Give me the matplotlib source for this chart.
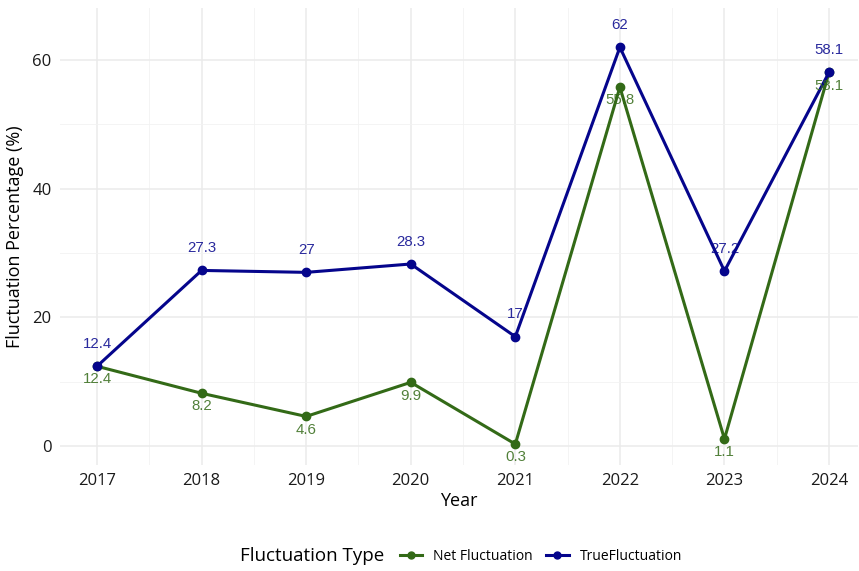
import numpy as np
import matplotlib.pyplot as plt

years = [2017, 2018, 2019, 2020, 2021, 2022, 2023, 2024]
true_fluct = [12.4, 27.3, 27, 28.3, 17, 62, 27.2, 58.1]
net_fluct = [12.4, 8.2, 4.6, 9.9, 0.3, 55.8, 1.1, 58.1]
true_labels = ["12.4", "27.3", "27", "28.3", "17", "62", "27.2", "58.1"]
net_labels = ["12.4", "8.2", "4.6", "9.9", "0.3", "55.8", "1.1", "58.1"]

green = '#336a17'
blue = '#05058c'

plt.rcParams['font.family'] = ['Open Sans', 'DejaVu Sans']

fig = plt.figure(figsize=(8.59, 5.71), dpi=100)
ax = fig.add_axes([60 / 859, 1 - 465 / 571, 798 / 859, 457 / 571])

ax.plot(years, net_fluct, color=green, lw=2.2, marker='o', ms=6, zorder=3)
ax.plot(years, true_fluct, color=blue, lw=2.2, marker='o', ms=6, zorder=4)

for x, y, t in zip(years, net_fluct, net_labels):
    ax.annotate(t, (x, y), xytext=(0, -9.5), textcoords='offset points',
                ha='center', va='center', color=green, alpha=0.85,
                fontsize=10.8, family='Liberation Sans', zorder=5)
for x, y, t in zip(years, true_fluct, true_labels):
    ax.annotate(t, (x, y), xytext=(0, 16), textcoords='offset points',
                ha='center', va='center', color=blue, alpha=0.85,
                fontsize=10.8, family='Liberation Sans', zorder=5)

ax.set_xlim(2016.646, 2024.277)
ax.set_ylim(-2.95, 68.1)
ax.set_xticks(years)
ax.set_xticks(np.arange(2017.5, 2024, 1), minor=True)
ax.set_yticks([0, 20, 40, 60])
ax.set_yticks([10, 30, 50], minor=True)
ax.grid(which='major', color='#ebebeb', lw=1.1)
ax.grid(which='minor', color='#f2f2f2', lw=0.6)
ax.set_axisbelow(True)
for s in ax.spines.values():
    s.set_visible(False)
ax.tick_params(which='both', length=0, labelsize=12, pad=6, labelcolor='#1a1a1a')

ax.set_xlabel('Year', fontsize=13, labelpad=2)
ax.set_ylabel('Fluctuation Percentage (%)', fontsize=13, labelpad=6)

h1, = ax.plot([], [], color=green, lw=2.2, marker='o', ms=5)
h2, = ax.plot([], [], color=blue, lw=2.2, marker='o', ms=5)
fig.text(240 / 859, 1 - 556 / 571, 'Fluctuation Type', fontsize=13.5, va='center', ha='left')
fig.legend([h1, h2], ['Net Fluctuation', 'TrueFluctuation'], ncol=2, frameon=False,
           loc='center left', bbox_to_anchor=(387 / 859, 1 - 556 / 571),
           fontsize=10, handlelength=1.6, columnspacing=1.0, handletextpad=0.8)

fig.savefig('out.png', dpi=100)
